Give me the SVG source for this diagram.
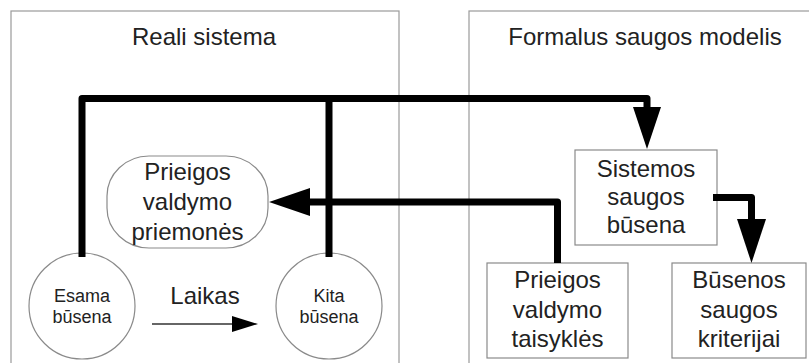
<svg xmlns="http://www.w3.org/2000/svg" width="809" height="363" viewBox="0 0 809 363">
<style>
.panel{fill:none;stroke:#9a9a9a;stroke-width:1.2}
.node{fill:#fff;stroke:#8a8a8a;stroke-width:1.2}
.t{font-family:"Liberation Sans",Arial,sans-serif;font-size:24px;fill:#222;text-anchor:middle}
.s{font-family:"Liberation Sans",Arial,sans-serif;font-size:18px;fill:#222;text-anchor:middle}
.thick{fill:none;stroke:#000;stroke-width:7;stroke-linejoin:round;stroke-linecap:butt}
.head{fill:#000}
.thin{fill:none;stroke:#333;stroke-width:1.5}
</style>
<rect width="809" height="363" fill="#fff"/>
<g id="panel-real">
<rect class="panel" x="11" y="11" width="388" height="370"/>
<text class="t" x="204" y="45">Reali sistema</text>
</g>
<g id="panel-formal">
<rect class="panel" x="469" y="11" width="360" height="370"/>
<text class="t" x="645" y="45">Formalus saugos modelis</text>
</g>
<g id="priemones">
<rect class="node" x="107" y="156" width="161" height="92" rx="42" ry="40"/>
<text class="t" x="187.5" y="180">Prieigos</text>
<text class="t" x="187.5" y="210">valdymo</text>
<text class="t" x="187.5" y="240">priemonės</text>
</g>
<g id="esama">
<circle class="node" cx="82" cy="306" r="53"/>
<text class="s" x="82" y="302">Esama</text>
<text class="s" x="82" y="323">būsena</text>
</g>
<g id="kita">
<circle class="node" cx="329" cy="306" r="53"/>
<text class="s" x="329" y="302">Kita</text>
<text class="s" x="329" y="323">būsena</text>
</g>
<g id="sistemos">
<rect class="node" x="575" y="150" width="142" height="95"/>
<text class="t" x="646" y="177">Sistemos</text>
<text class="t" x="646" y="205">saugos</text>
<text class="t" x="646" y="233">būsena</text>
</g>
<g id="taisykles">
<rect class="node" x="487" y="263" width="141" height="95"/>
<text class="t" x="557.5" y="288">Prieigos</text>
<text class="t" x="557.5" y="318">valdymo</text>
<text class="t" x="557.5" y="347">taisyklės</text>
</g>
<g id="kriterijai">
<rect class="node" x="672" y="263" width="134" height="95"/>
<text class="t" x="739" y="288">Būsenos</text>
<text class="t" x="739" y="318">saugos</text>
<text class="t" x="739" y="347">kriterijai</text>
</g>
<g id="connectors">
<path class="thick" d="M82,257 V98.5 H647 V108"/>
<polygon class="head" points="633,107 661,107 647,149"/>
<path class="thick" d="M329,257 V98.5"/>
<path class="thick" d="M557.5,263 V202 H309"/>
<polygon class="head" points="269,202 310,188 310,216"/>
<path class="thick" d="M713,197.5 H751.5 V220"/>
<polygon class="head" points="737,219 766,219 751.5,263"/>
<line class="thin" x1="152" y1="324" x2="234" y2="324"/>
<polygon class="head" points="232,316 258,324 232,332"/>
<text class="t" x="205" y="304">Laikas</text>
</g>
</svg>
